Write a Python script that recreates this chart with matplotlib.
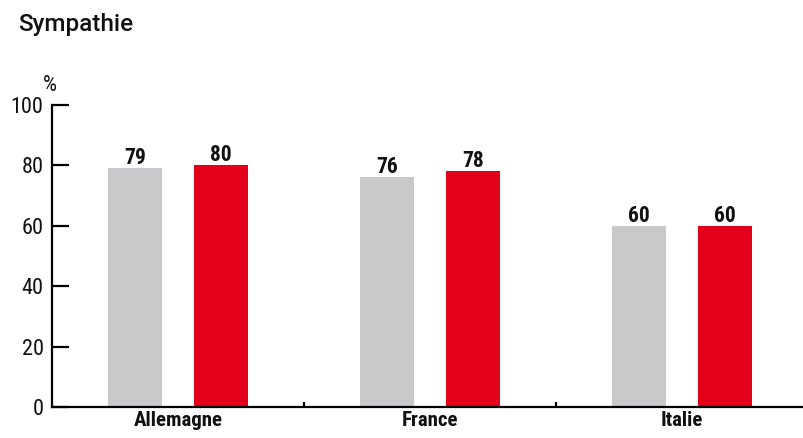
import matplotlib.pyplot as plt
import numpy as np

plt.rcParams['font.family'] = ['Liberation Sans Narrow', 'Roboto Condensed', 'Roboto', 'DejaVu Sans']

pays = ['Allemagne', 'France', 'Italie']
serie_gris = [79, 76, 60]
serie_rouge = [80, 78, 60]
y_ticks = [0, 20, 40, 60, 80, 100]

gris = '#c8c9cb'
rouge = '#e2001a'
encre = '#111111'

fig = plt.figure(figsize=(8.04, 4.38), dpi=100)
ax = fig.add_axes([52 / 804, 31 / 438, 756 / 804, 302 / 438])

x = np.arange(len(pays)) + 0.5
w = 0.214
off = 0.171
b1 = ax.bar(x - off, serie_gris, width=w, color=gris)
b2 = ax.bar(x + off, serie_rouge, width=w, color=rouge)

for bars, vals in ((b1, serie_gris), (b2, serie_rouge)):
    for b, v in zip(bars, vals):
        ax.text(b.get_x() + b.get_width() / 2, v + 1.4, str(v), ha='center', va='baseline',
                fontsize=15.5, fontweight='bold', color=encre)

ax.set_xlim(0, 3)
ax.set_ylim(0, 100)
for s in ['top', 'right']:
    ax.spines[s].set_visible(False)
ax.spines['left'].set_linewidth(1.6)
ax.spines['bottom'].set_linewidth(1.6)

ax.set_yticks(y_ticks)
ax.set_yticklabels([str(t) for t in y_ticks], fontsize=16, color=encre)
ax.tick_params(axis='y', direction='in', length=12, width=1.6, pad=6)

ax.set_xticks([1, 2])
ax.set_xticklabels([])
ax.tick_params(axis='x', direction='in', length=3.5, width=1.6)
ax.set_xticks(x, minor=True)
ax.set_xticklabels(pays, minor=True, fontsize=15, fontweight='bold', color=encre)
ax.tick_params(axis='x', which='minor', length=0, pad=3)

# signe % en exposant du 100
fig.text(43 / 804, 1 - 91 / 438, '%', fontsize=16, ha='left', va='baseline', color=encre)
fig.text(18 / 804, 1 - 31 / 438, 'Sympathie', fontsize=17.5, family=['Roboto', 'DejaVu Sans'],
         fontweight='medium', va='baseline', ha='left', color=encre)

fig.savefig('out.png', dpi=100)
